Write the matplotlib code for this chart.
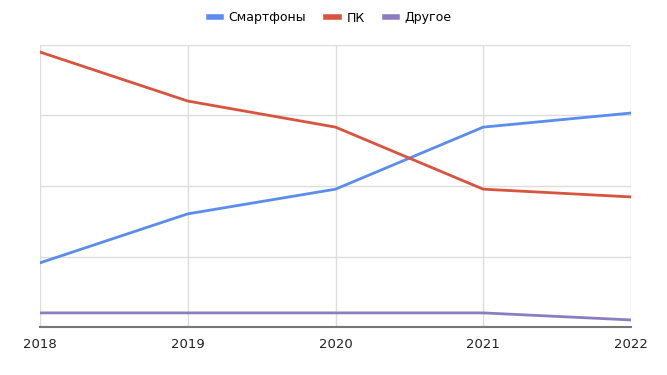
import matplotlib.pyplot as plt

years       = [2018, 2019, 2020, 2021, 2022]
smartphones = [18.2, 32.1, 39.1, 56.7, 60.7]
pc          = [78.0, 64.1, 56.7, 39.1, 36.9]
other       = [4.0, 4.0, 4.0, 4.0, 2.0]

plt.rcParams['font.family'] = ['DejaVu Sans']

fig = plt.figure(figsize=(6.67, 3.75), dpi=100)
ax  = fig.add_axes([0.06, 0.128, 0.886, 0.752])

ax.plot(years, smartphones, c='#5b8def', lw=2, label='Смартфоны')
ax.plot(years, pc,          c='#d9543f', lw=2, label='ПК')
ax.plot(years, other,       c='#8e7cc3', lw=2, label='Другое')

ax.set_xlim(2018, 2022)
ax.set_ylim(0, 80)
ax.set_xticks(years)
ax.set_xticklabels([str(y) for y in years], fontsize=9.5, color='#222222')
ax.set_yticks([0, 20, 40, 60, 80])
ax.set_yticklabels([])
ax.tick_params(length=0, pad=8)
ax.grid(True, color='#dddddd', lw=1)
ax.set_axisbelow(True)

for s in ['top', 'right', 'left']:
    ax.spines[s].set_visible(False)
ax.spines['bottom'].set_color('#777777')
ax.spines['bottom'].set_linewidth(1.5)

leg = fig.legend(loc='center', bbox_to_anchor=(0.495, 0.952), ncol=3, frameon=False,
                 fontsize=9, handlelength=1.0, handletextpad=0.6, columnspacing=1.6)
for h in leg.get_lines():
    h.set_linewidth(4)

plt.savefig('out.png', dpi=100)
